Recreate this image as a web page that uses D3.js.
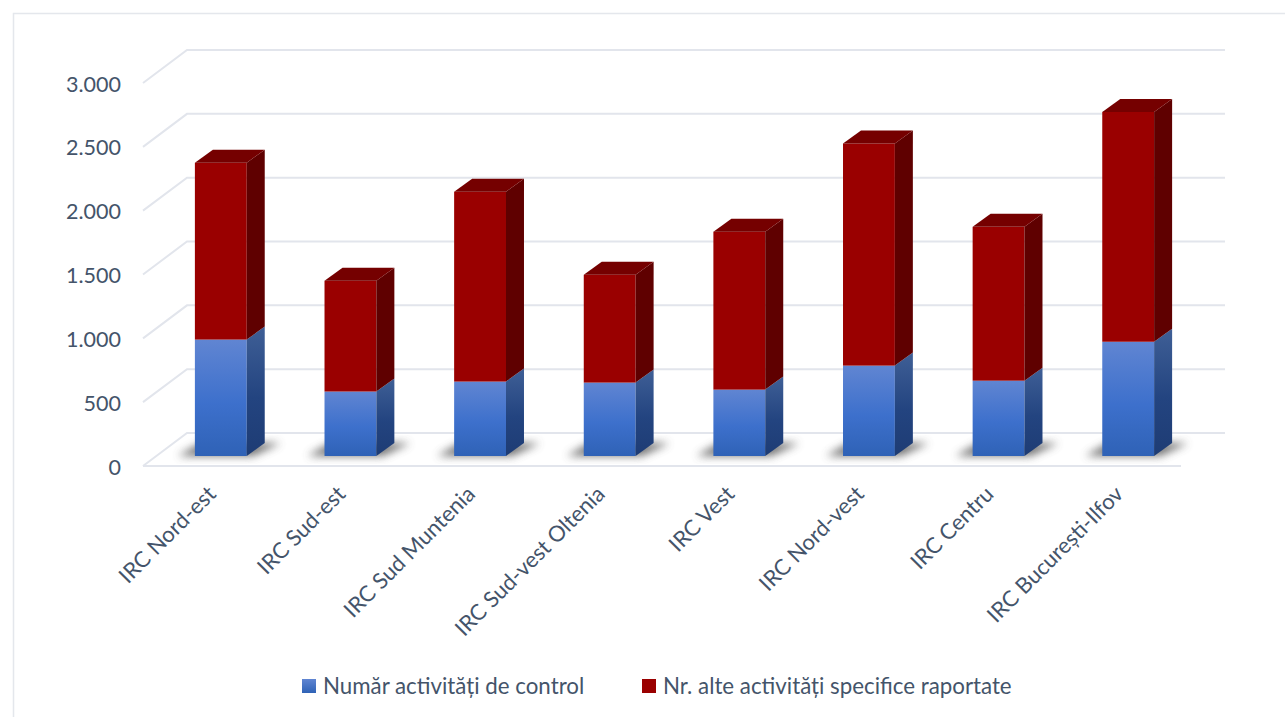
<!DOCTYPE html>
<html>
<head>
<meta charset="utf-8">
<script src="https://cdn.jsdelivr.net/npm/d3@7"></script>
<style>
  html, body { margin: 0; padding: 0; background: #fff; overflow: hidden; }
  text { font-family: Lato, "Open Sans", sans-serif; fill: #44546a; }
</style>
</head>
<body>
<svg id="chart"></svg>
<script>
// Data
const categories = ["IRC Nord-est", "IRC Sud-est", "IRC Sud Muntenia", "IRC Sud-vest Oltenia",
  "IRC Vest", "IRC Nord-vest", "IRC Centru", "IRC București-Ilfov"];
const controlValues = [912, 505, 583, 575, 520, 708, 590, 895];
const otherValues = [1385, 868, 1487, 845, 1237, 1740, 1205, 1800];
const yTicks = [0, 500, 1000, 1500, 2000, 2500, 3000];
const seriesNames = ["Număr activități de control", "Nr. alte activități specifice raportate"];

const width = 1285;
const height = 717;

const svg = d3.select("#chart")
    .attr("width", width)
    .attr("height", height);

// 3D offsets: wall depth, bar inset from the front edge, bar depth
const wall = { dx: 44, dy: -33 };
const inset = { dx: 13, dy: -10 };
const depth = { dx: 18, dy: -13 };

const x = d3.scaleBand()
    .domain(categories)
    .range([143, 1180])
    .paddingInner(0.6)
    .paddingOuter(0.3);

const y = d3.scaleLinear()
    .domain([0, 3000])
    .range([466, 83]);

const defs = svg.append("defs");

const blueFront = defs.append("linearGradient").attr("id", "blueFront")
    .attr("x1", 0).attr("y1", 0).attr("x2", 0).attr("y2", 1);
blueFront.append("stop").attr("offset", "0%").attr("stop-color", "#6085d2");
blueFront.append("stop").attr("offset", "55%").attr("stop-color", "#3d70cc");
blueFront.append("stop").attr("offset", "100%").attr("stop-color", "#2f62b6");

const blueSide = defs.append("linearGradient").attr("id", "blueSide")
    .attr("x1", 0).attr("y1", 0).attr("x2", 0).attr("y2", 1);
blueSide.append("stop").attr("offset", "0%").attr("stop-color", "#3f5f96");
blueSide.append("stop").attr("offset", "55%").attr("stop-color", "#234480");
blueSide.append("stop").attr("offset", "100%").attr("stop-color", "#1e3c74");

const legendBlue = defs.append("linearGradient").attr("id", "legendBlue")
    .attr("x1", 0).attr("y1", 0).attr("x2", 0).attr("y2", 1);
legendBlue.append("stop").attr("offset", "0%").attr("stop-color", "#6085d2");
legendBlue.append("stop").attr("offset", "100%").attr("stop-color", "#2f62b6");

defs.append("filter").attr("id", "blur")
    .attr("x", "-30%").attr("y", "-60%").attr("width", "160%").attr("height", "220%")
    .append("feGaussianBlur").attr("stdDeviation", 4);

// Outer frame
svg.append("path")
    .attr("d", `M13.5,${height} V13.5 H${width}`)
    .attr("fill", "none")
    .attr("stroke", "#e4e7ec")
    .attr("stroke-width", 1.5);

// Gridlines: side wall plus back wall
const grid = svg.append("g")
    .attr("fill", "none")
    .attr("stroke", "#e2e5ec")
    .attr("stroke-width", 2);

grid.selectAll("path")
    .data(yTicks)
    .join("path")
    .attr("d", d => `M143,${y(d)} L${143 + wall.dx},${y(d) + wall.dy} H${1181 + wall.dx}`);

grid.append("line")
    .attr("x1", 143).attr("x2", 1181)
    .attr("y1", y(0)).attr("y2", y(0));

// Y axis labels
svg.append("g").selectAll("text")
    .data(yTicks)
    .join("text")
    .attr("x", 121)
    .attr("y", d => y(d) + 1)
    .attr("dy", "0.35em")
    .attr("text-anchor", "end")
    .attr("font-size", 21.5)
    .text(d => d === 0 ? "0" : d3.format(",")(d).replace(",", "."));

// Floor shadows
svg.append("g").selectAll("path")
    .data(categories)
    .join("path")
    .attr("d", d => {
        const left = x(d) + inset.dx;
        const base = y(0) + inset.dy;
        return `M${left - 17},${base} L${left + x.bandwidth() + 6},${base}
                L${left + x.bandwidth() + 34},${base - 13} L${left + 6},${base - 13} Z`;
    })
    .attr("fill", "#5a5a5a")
    .attr("opacity", 0.85)
    .attr("filter", "url(#blur)");

// Draw one stacked segment as front, side and top faces
function drawSegment(g, left, y0, y1, colors, withTop) {
    const w = x.bandwidth();
    const yBottom = y(y0) + inset.dy;
    const yTop = y(y1) + inset.dy;
    g.append("rect")
        .attr("x", left).attr("y", yTop)
        .attr("width", w).attr("height", yBottom - yTop)
        .attr("fill", colors.front);
    g.append("path")
        .attr("d", `M${left + w},${yBottom} L${left + w + depth.dx},${yBottom + depth.dy}
                    V${yTop + depth.dy} L${left + w},${yTop} Z`)
        .attr("fill", colors.side);
    if (withTop) {
        g.append("path")
            .attr("d", `M${left},${yTop} L${left + depth.dx},${yTop + depth.dy}
                        H${left + w + depth.dx} L${left + w},${yTop} Z`)
            .attr("fill", colors.top);
    }
}

const bars = svg.append("g");
categories.forEach((c, i) => {
    const left = x(c) + inset.dx;
    const g = bars.append("g");
    drawSegment(g, left, 0, controlValues[i],
        { front: "url(#blueFront)", side: "url(#blueSide)" }, false);
    drawSegment(g, left, controlValues[i], controlValues[i] + otherValues[i],
        { front: "#9a0000", side: "#5f0000", top: "#750000" }, true);
});

// Category labels
svg.append("g").selectAll("text")
    .data(categories)
    .join("text")
    .attr("transform", d => `translate(${x(d) + x.bandwidth() / 2 + 4},490) rotate(-45)`)
    .attr("text-anchor", "end")
    .attr("dy", "0.35em")
    .attr("font-size", 22)
    .text(d => d);

// Legend
const legendX = [302, 642];
const legendFill = ["url(#legendBlue)", "#9a0000"];
const legend = svg.append("g");
seriesNames.forEach((name, i) => {
    legend.append("rect")
        .attr("x", legendX[i]).attr("y", 679)
        .attr("width", 14).attr("height", 14)
        .attr("fill", legendFill[i]);
    legend.append("text")
        .attr("x", legendX[i] + 21)
        .attr("y", 686)
        .attr("dy", "0.35em")
        .attr("font-size", 22.3)
        .text(name);
});
</script>
</body>
</html>
